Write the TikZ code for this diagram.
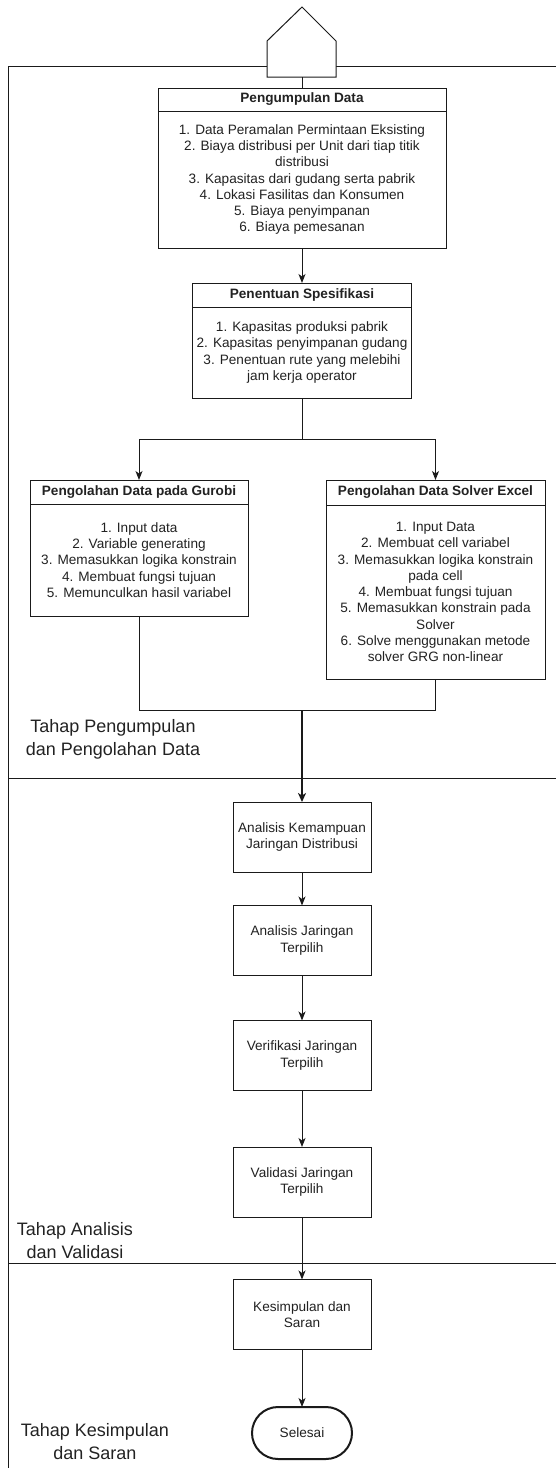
\documentclass[tikz,border=0pt]{standalone}
\usepackage{fontspec}
\setmainfont{Liberation Sans}
\usetikzlibrary{arrows.meta}
\definecolor{lc}{HTML}{1A1A1A}
\definecolor{txt}{HTML}{222222}
\newcommand{\mybody}{\fontsize{13.6}{16.3}\selectfont}
\newcommand{\mylabel}{\fontsize{18}{23}\selectfont}
\begin{document}
\begin{tikzpicture}[x=1pt,y=-1pt,
  every node/.style={inner sep=0pt, outer sep=0pt, text=txt},
  lane/.style={draw=lc, line width=1pt, fill=white},
  flowbox/.style={draw=lc, line width=1pt, fill=white, minimum width=138pt, minimum height=70pt, align=center, font=\mybody},
  hdr/.style={font=\mybody\bfseries},
  bodytext/.style={align=center, font=\mybody},
  lbl/.style={align=center, font=\mylabel},
  con/.style={draw=lc, line width=1pt},
  arr/.style={con, -{Stealth[length=9pt,width=7pt,inset=2.5pt]}},
  thickarr/.style={draw=lc, line width=2pt, -{Stealth[length=9pt,width=8pt,inset=2.5pt]}},
  term/.style={draw=lc, line width=2pt, fill=white, rounded corners=26pt, minimum width=100pt, minimum height=52pt, font=\mybody}
]
\useasboundingbox (0,0) rectangle (556,1468);

% frame
\draw[con] (8,1468) -- (8,66) -- (556,66);
\draw[con] (8,778) -- (556,778);
\draw[con] (8,1263) -- (556,1263);

% off-page connector (start)
\draw[con, fill=white] (302,7) -- (336,41) -- (336,77) -- (267,77) -- (267,41) -- cycle;
\coordinate (start) at (302,77);

% Box 1: Pengumpulan Data
\node[lane, minimum width=288pt, minimum height=160pt] (b1) at (302,168) {};
\draw[con] (b1.west |- 0,111) -- (b1.east |- 0,111);
\node[hdr] at (302,99.5) {Pengumpulan Data};
\node[bodytext] at (302,179.5) {1. Data Peramalan Permintaan Eksisting\\2. Biaya distribusi per Unit dari tiap titik\\distribusi\\3. Kapasitas dari gudang serta pabrik\\4. Lokasi Fasilitas dan Konsumen\\5. Biaya penyimpanan\\6. Biaya pemesanan};

% Box 2: Penentuan Spesifikasi
\node[lane, minimum width=219pt, minimum height=115pt] (b2) at (302,340.5) {};
\draw[con] (b2.west |- 0,307) -- (b2.east |- 0,307);
\node[hdr] at (302,295) {Penentuan Spesifikasi};
\node[bodytext] at (302,352.5) {1. Kapasitas produksi pabrik\\2. Kapasitas penyimpanan gudang\\3. Penentuan rute yang melebihi\\jam kerja operator};

% Box 3: Gurobi
\node[lane, minimum width=218pt, minimum height=136pt] (b3) at (139,548) {};
\draw[con] (b3.west |- 0,504) -- (b3.east |- 0,504);
\node[hdr] at (139,492) {Pengolahan Data pada Gurobi};
\node[bodytext] at (139,560) {1. Input data\\2. Variable generating\\3. Memasukkan logika konstrain\\4. Membuat fungsi tujuan\\5. Memunculkan hasil variabel};

% Box 4: Solver Excel
\node[lane, minimum width=219pt, minimum height=199pt] (b4) at (435.5,579.5) {};
\draw[con] (b4.west |- 0,505) -- (b4.east |- 0,505);
\node[hdr] at (435.5,492.5) {Pengolahan Data Solver Excel};
\node[bodytext] at (435.5,592) {1. Input Data\\2. Membuat cell variabel\\3. Memasukkan logika konstrain\\pada cell\\4. Membuat fungsi tujuan\\5. Memasukkan konstrain pada\\Solver\\6. Solve menggunakan metode\\solver GRG non-linear};

% Flow boxes
\node[flowbox] (b5) at (302,837) {Analisis Kemampuan\\Jaringan Distribusi};
\node[flowbox] (b6) at (302,940.5) {Analisis Jaringan\\Terpilih};
\node[flowbox] (b7) at (302,1055.5) {Verifikasi Jaringan\\Terpilih};
\node[flowbox] (b8) at (302,1182) {Validasi Jaringan\\Terpilih};
\node[flowbox] (b9) at (302,1314.5) {Kesimpulan dan\\Saran};
\node[term] (end) at (302,1433) {Selesai};

% connectors
\draw[con] (start) -- (b1.north);
\draw[arr] (b1.south) -- (b2.north);
\coordinate (split) at (302,439);
\draw[con] (b2.south) -- (split);
\draw[arr] (split) -| (b3.north);
\draw[arr] (split) -| (b4.north);
\coordinate (merge) at (302,710);
\draw[con] (b3.south) |- (merge);
\draw[con] (b4.south) |- (merge);
\draw[thickarr] (merge) -- (b5.north);
\draw[arr] (b5.south) -- (b6.north);
\draw[arr] (b6.south) -- (b7.north);
\draw[arr] (b7.south) -- (b8.north);
\draw[arr] (b8.south) -- (b9.north);
\draw[arr] (b9.south) -- (end.north);

% stage labels
\node[lbl] (l1) at (113,739.5) {Tahap Pengumpulan\\dan Pengolahan Data};
\node[lbl] (l2) at (75,1240.5) {Tahap Analisis\\dan Validasi};
\node[lbl] (l3) at (95,1441.5) {Tahap Kesimpulan\\dan Saran};
\end{tikzpicture}
\end{document}
